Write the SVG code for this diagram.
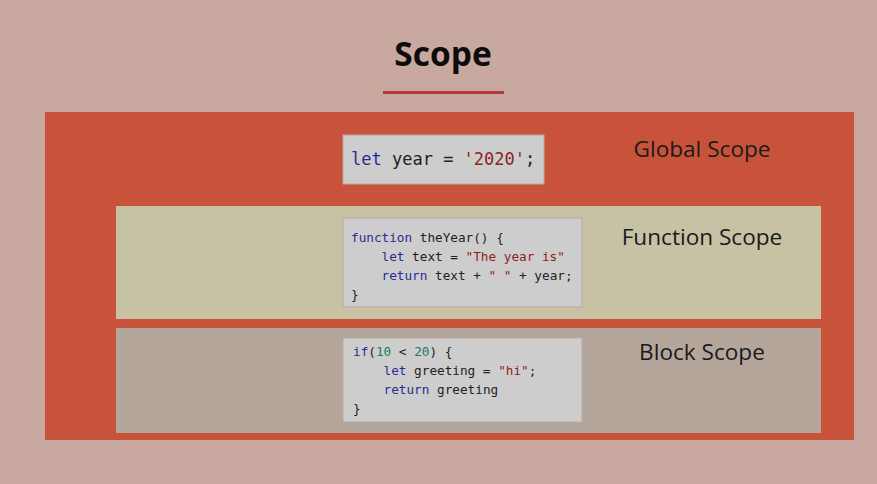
<svg xmlns="http://www.w3.org/2000/svg" width="877" height="484" viewBox="0 0 877 484">
<style>
.code{font-family:"DejaVu Sans Mono",monospace;fill:#222}
.kw{fill:#2b2b96}
.str{fill:#8e1f22}
.num{fill:#1b7a5e}
.lbl{font-family:"Open Sans","Noto Sans",sans-serif;font-size:22.6px;fill:#1a1a1a;text-anchor:middle}
.box{fill:#cdcdcd;stroke:#b9a9a2;stroke-width:1}
</style>
<rect width="877" height="484" fill="#c9a8a0"/>
<g id="title">
<text x="443" y="66" font-family="Open Sans,sans-serif" font-weight="bold" font-size="33.5" text-anchor="middle" fill="#0d0d0d">Scope</text>
<rect x="383" y="91" width="121" height="3" fill="#b33a3a"/>
</g>
<g id="global">
<rect x="45" y="112" width="809" height="328" fill="#c9533a"/>
<rect class="box" x="343" y="135" width="201" height="49"/>
<text class="code" x="351" y="165" font-size="17"><tspan class="kw">let</tspan> year = <tspan class="str">'2020'</tspan>;</text>
<text class="lbl" x="702" y="157">Global Scope</text>
</g>
<g id="function">
<rect x="116" y="206" width="705" height="113" fill="#c7c2a4"/>
<rect class="box" x="343" y="218" width="239" height="89"/>
<text class="code" font-size="12.7" xml:space="preserve"><tspan x="351" y="242"><tspan class="kw">function</tspan> theYear() {</tspan><tspan x="351" y="261">    <tspan class="kw">let</tspan> text = <tspan class="str">"The year is"</tspan></tspan><tspan x="351" y="280">    <tspan class="kw">return</tspan> text + <tspan class="str">" "</tspan> + year;</tspan><tspan x="351" y="299">}</tspan></text>
<text class="lbl" x="702" y="245">Function Scope</text>
</g>
<g id="block">
<rect x="116" y="328" width="705" height="105" fill="#b5a69c"/>
<rect class="box" x="343" y="338" width="239" height="84"/>
<text class="code" font-size="12.7" xml:space="preserve"><tspan x="353" y="356"><tspan class="kw">if</tspan>(<tspan class="num">10</tspan> &lt; <tspan class="num">20</tspan>) {</tspan><tspan x="353" y="375">    <tspan class="kw">let</tspan> greeting = <tspan class="str">"hi"</tspan>;</tspan><tspan x="353" y="394">    <tspan class="kw">return</tspan> greeting</tspan><tspan x="353" y="413">}</tspan></text>
<text class="lbl" x="702" y="360">Block Scope</text>
</g>
<g id="connectors"/>
</svg>
